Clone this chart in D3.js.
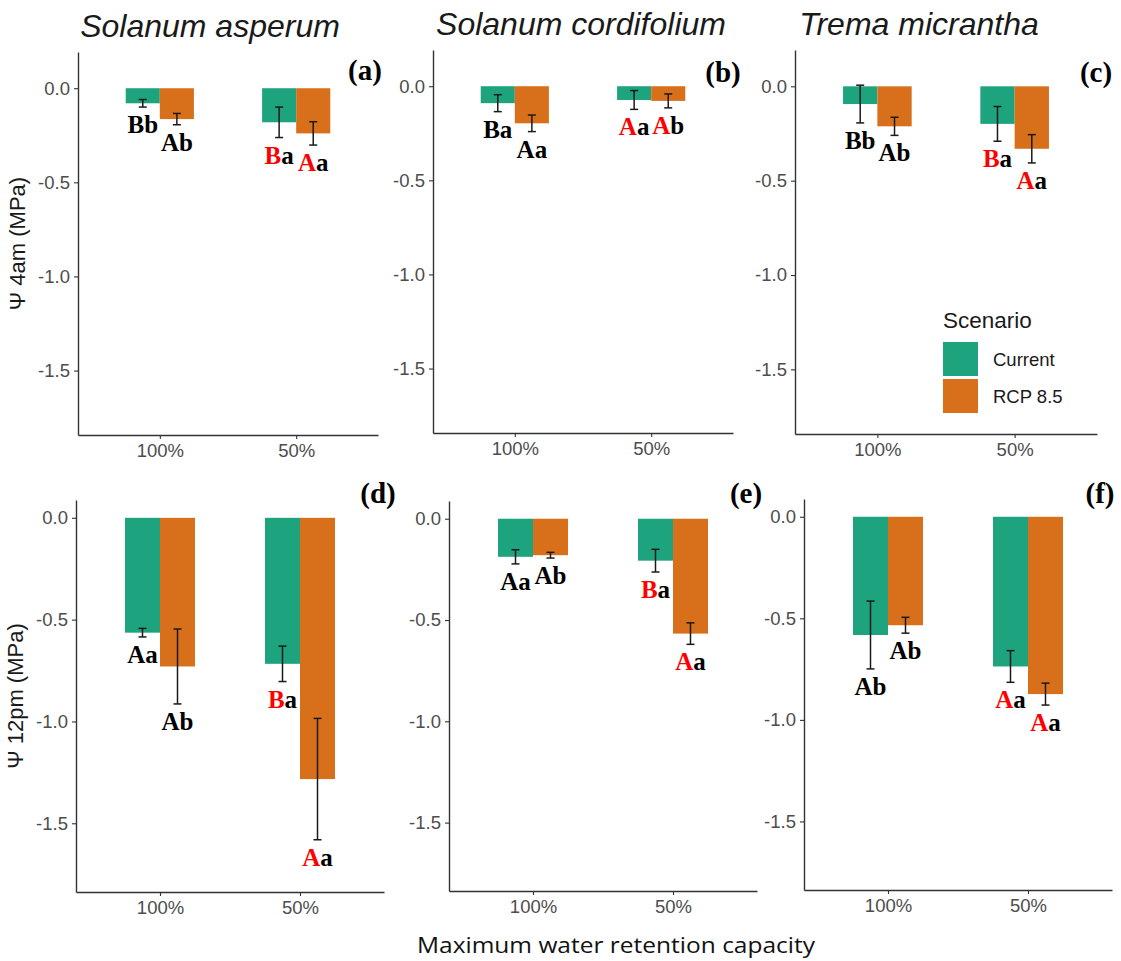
<!DOCTYPE html>
<html>
<head>
<meta charset="utf-8">
<script src="https://cdn.jsdelivr.net/npm/d3@7"></script>
<style>
  html, body { margin: 0; padding: 0; background: #ffffff; }
  svg { display: block; }
</style>
</head>
<body>
<svg id="chart" width="1121" height="961"></svg>
<script>
// ---- data -------------------------------------------------------------
const species = ["Solanum asperum", "Solanum cordifolium", "Trema micrantha"];
const categories = ["100%", "50%"];
const scenarios = ["Current", "RCP 8.5"];
const yTicks = [0, -0.5, -1.0, -1.5];

// water potential at 4am (MPa), per species: [100%, 50%]
const psi4amCurrent = [[-0.080, -0.181], [-0.090, -0.073], [-0.094, -0.199]];
const psi4amRcp     = [[-0.164, -0.240], [-0.197, -0.078], [-0.212, -0.331]];
const se4amCurrent  = [[0.020, 0.081], [0.045, 0.050], [0.100, 0.092]];
const se4amRcp      = [[0.030, 0.062], [0.044, 0.037], [0.048, 0.075]];

// water potential at 12pm (MPa), per species: [100%, 50%]
const psi12pmCurrent = [[-0.564, -0.717], [-0.188, -0.207], [-0.582, -0.737]];
const psi12pmRcp     = [[-0.730, -1.283], [-0.180, -0.567], [-0.534, -0.873]];
const se12pmCurrent  = [[0.021, 0.087], [0.035, 0.056], [0.167, 0.078]];
const se12pmRcp      = [[0.184, 0.298], [0.014, 0.053], [0.039, 0.054]];

// significance letters: [species][category][scenario]
const letters4am  = [[["Bb", "Ab"], ["Ba", "Aa"]], [["Ba", "Aa"], ["Aa", "Ab"]], [["Bb", "Ab"], ["Ba", "Aa"]]];
const letters12pm = [[["Aa", "Ab"], ["Ba", "Aa"]], [["Aa", "Ab"], ["Ba", "Aa"]], [["Ab", "Ab"], ["Aa", "Aa"]]];
// category whose upper-case letter is highlighted
const highlightCategory = "50%";

const panelTags = ["(a)", "(b)", "(c)", "(d)", "(e)", "(f)"];
const rowTitles = ["Ψ 4am (MPa)", "Ψ 12pm (MPa)"];
const xTitle = "Maximum water retention capacity";

// ---- look -------------------------------------------------------------
const colors = { "Current": "#1ea37f", "RCP 8.5": "#d8701b" };
const sans = "'Liberation Sans', Arial, Helvetica, sans-serif";
const serif = "'Liberation Serif', 'Times New Roman', serif";

// plot areas and tag positions for the 2 x 3 grid
const layout = [
  { l: 78,  r: 378,  t: 52,  b: 435, tag: [365, 80]   },
  { l: 433, r: 733,  t: 50,  b: 433, tag: [723, 82]   },
  { l: 795, r: 1097, t: 50,  b: 434, tag: [1096, 82]  },
  { l: 76,  r: 384,  t: 500, b: 892, tag: [378, 503]  },
  { l: 449, r: 757,  t: 501, b: 891, tag: [746, 503]  },
  { l: 804, r: 1112, t: 499, b: 890, tag: [1100, 503] }
];
const rowDomains = [[-1.8425, 0.1925], [-1.8375, 0.0875]];
const titlePos = [[210, 37], [581, 35], [919, 35]];

const svg = d3.select("#chart");

const rows = [
  { mean: [psi4amCurrent, psi4amRcp], se: [se4amCurrent, se4amRcp], letters: letters4am },
  { mean: [psi12pmCurrent, psi12pmRcp], se: [se12pmCurrent, se12pmRcp], letters: letters12pm }
];

rows.forEach((row, ri) => {
  species.forEach((sp, si) => {
    const box = layout[ri * 3 + si];
    const g = svg.append("g");

    const y = d3.scaleLinear().domain(rowDomains[ri]).range([box.b, box.t]);
    const x = d3.scalePoint().domain(categories).range([box.l, box.r]).padding(0.6);
    const groupW = x.step() * 0.5;
    const xs = d3.scaleBand().domain(scenarios).range([-groupW / 2, groupW / 2]);

    const recs = [];
    categories.forEach((cat, ci) => {
      scenarios.forEach((sc, k) => {
        recs.push({
          cat, sc,
          mean: row.mean[k][si][ci],
          se: row.se[k][si][ci],
          label: row.letters[si][ci][k]
        });
      });
    });

    // bars
    g.selectAll("rect.bar").data(recs).join("rect")
      .attr("class", "bar")
      .attr("x", d => x(d.cat) + xs(d.sc))
      .attr("width", xs.bandwidth())
      .attr("y", d => y(Math.max(0, d.mean)))
      .attr("height", d => Math.abs(y(d.mean) - y(0)))
      .attr("fill", d => colors[d.sc]);

    // error bars
    const cap = 4;
    const eb = g.selectAll("g.err").data(recs).join("g").attr("class", "err")
      .attr("stroke", "#1a1a1a").attr("stroke-width", 1.5);
    const cx = d => x(d.cat) + xs(d.sc) + xs.bandwidth() / 2;
    eb.append("line")
      .attr("x1", cx).attr("x2", cx)
      .attr("y1", d => y(d.mean + d.se)).attr("y2", d => y(d.mean - d.se));
    eb.append("line")
      .attr("x1", d => cx(d) - cap).attr("x2", d => cx(d) + cap)
      .attr("y1", d => y(d.mean + d.se)).attr("y2", d => y(d.mean + d.se));
    eb.append("line")
      .attr("x1", d => cx(d) - cap).attr("x2", d => cx(d) + cap)
      .attr("y1", d => y(d.mean - d.se)).attr("y2", d => y(d.mean - d.se));

    // significance letters below each error bar
    const lab = g.selectAll("text.sig").data(recs).join("text")
      .attr("class", "sig")
      .attr("x", cx)
      .attr("y", d => y(d.mean - d.se) + 26)
      .attr("text-anchor", "middle")
      .attr("font-family", serif)
      .attr("font-weight", "bold")
      .attr("font-size", 25);
    lab.append("tspan")
      .attr("fill", d => d.cat === highlightCategory ? "#ff0000" : "#000000")
      .text(d => d.label[0]);
    lab.append("tspan")
      .attr("fill", "#000000")
      .text(d => d.label.slice(1));

    // axes
    const yAxis = g.append("g")
      .attr("transform", `translate(${box.l},0)`)
      .call(d3.axisLeft(y).tickValues(yTicks).tickFormat(v => v.toFixed(1))
        .tickSize(4).tickSizeOuter(0).tickPadding(4));
    const xAxis = g.append("g")
      .attr("transform", `translate(0,${box.b})`)
      .call(d3.axisBottom(x).tickSize(4).tickSizeOuter(0).tickPadding(5));
    [yAxis, xAxis].forEach(a => {
      a.select(".domain").attr("stroke", "#333333").attr("stroke-width", 1.4);
      a.selectAll(".tick line").attr("stroke", "#333333").attr("stroke-width", 1.1);
      a.selectAll(".tick text")
        .attr("fill", "#4d4d4d")
        .attr("font-family", sans)
        .attr("font-size", 18.5);
    });

    // panel tag
    svg.append("text")
      .attr("x", box.tag[0]).attr("y", box.tag[1])
      .attr("text-anchor", "middle")
      .attr("font-family", serif)
      .attr("font-weight", "bold")
      .attr("font-size", 29)
      .attr("fill", "#000000")
      .text(panelTags[ri * 3 + si]);

    // species title over the top row
    if (ri === 0) {
      svg.append("text")
        .attr("x", titlePos[si][0]).attr("y", titlePos[si][1])
        .attr("text-anchor", "middle")
        .attr("font-family", sans)
        .attr("font-style", "italic")
        .attr("font-size", 32)
        .attr("fill", "#1a1a1a")
        .text(sp);
    }

    // row title on the left column
    if (si === 0) {
      const cy = (box.t + box.b) / 2;
      svg.append("text")
        .attr("transform", `translate(${box.l - 53},${cy}) rotate(-90)`)
        .attr("text-anchor", "middle")
        .attr("font-family", sans)
        .attr("font-size", 22)
        .attr("fill", "#1a1a1a")
        .text(rowTitles[ri]);
    }

    // legend inside the top-right panel
    if (ri === 0 && si === 2) {
      const lg = svg.append("g").attr("transform", "translate(943,328)");
      lg.append("text")
        .attr("x", 0).attr("y", 0)
        .attr("font-family", sans)
        .attr("font-size", 22.5)
        .attr("fill", "#1a1a1a")
        .text("Scenario");
      scenarios.forEach((sc, k) => {
        lg.append("rect")
          .attr("x", 0).attr("y", 14 + k * 37)
          .attr("width", 35).attr("height", 34)
          .attr("fill", colors[sc]);
        lg.append("text")
          .attr("x", 50).attr("y", 14 + k * 37 + 24)
          .attr("font-family", sans)
          .attr("font-size", 18.5)
          .attr("fill", "#1a1a1a")
          .text(sc);
      });
    }
  });
});

// shared x-axis title
svg.append("text")
  .attr("x", 616).attr("y", 953)
  .attr("text-anchor", "middle")
  .attr("font-family", "'Open Sans', Lato, sans-serif")
  .attr("font-size", 22)
  .attr("textLength", 398)
  .attr("lengthAdjust", "spacingAndGlyphs")
  .attr("fill", "#111111")
  .text(xTitle);
</script>
</body>
</html>
